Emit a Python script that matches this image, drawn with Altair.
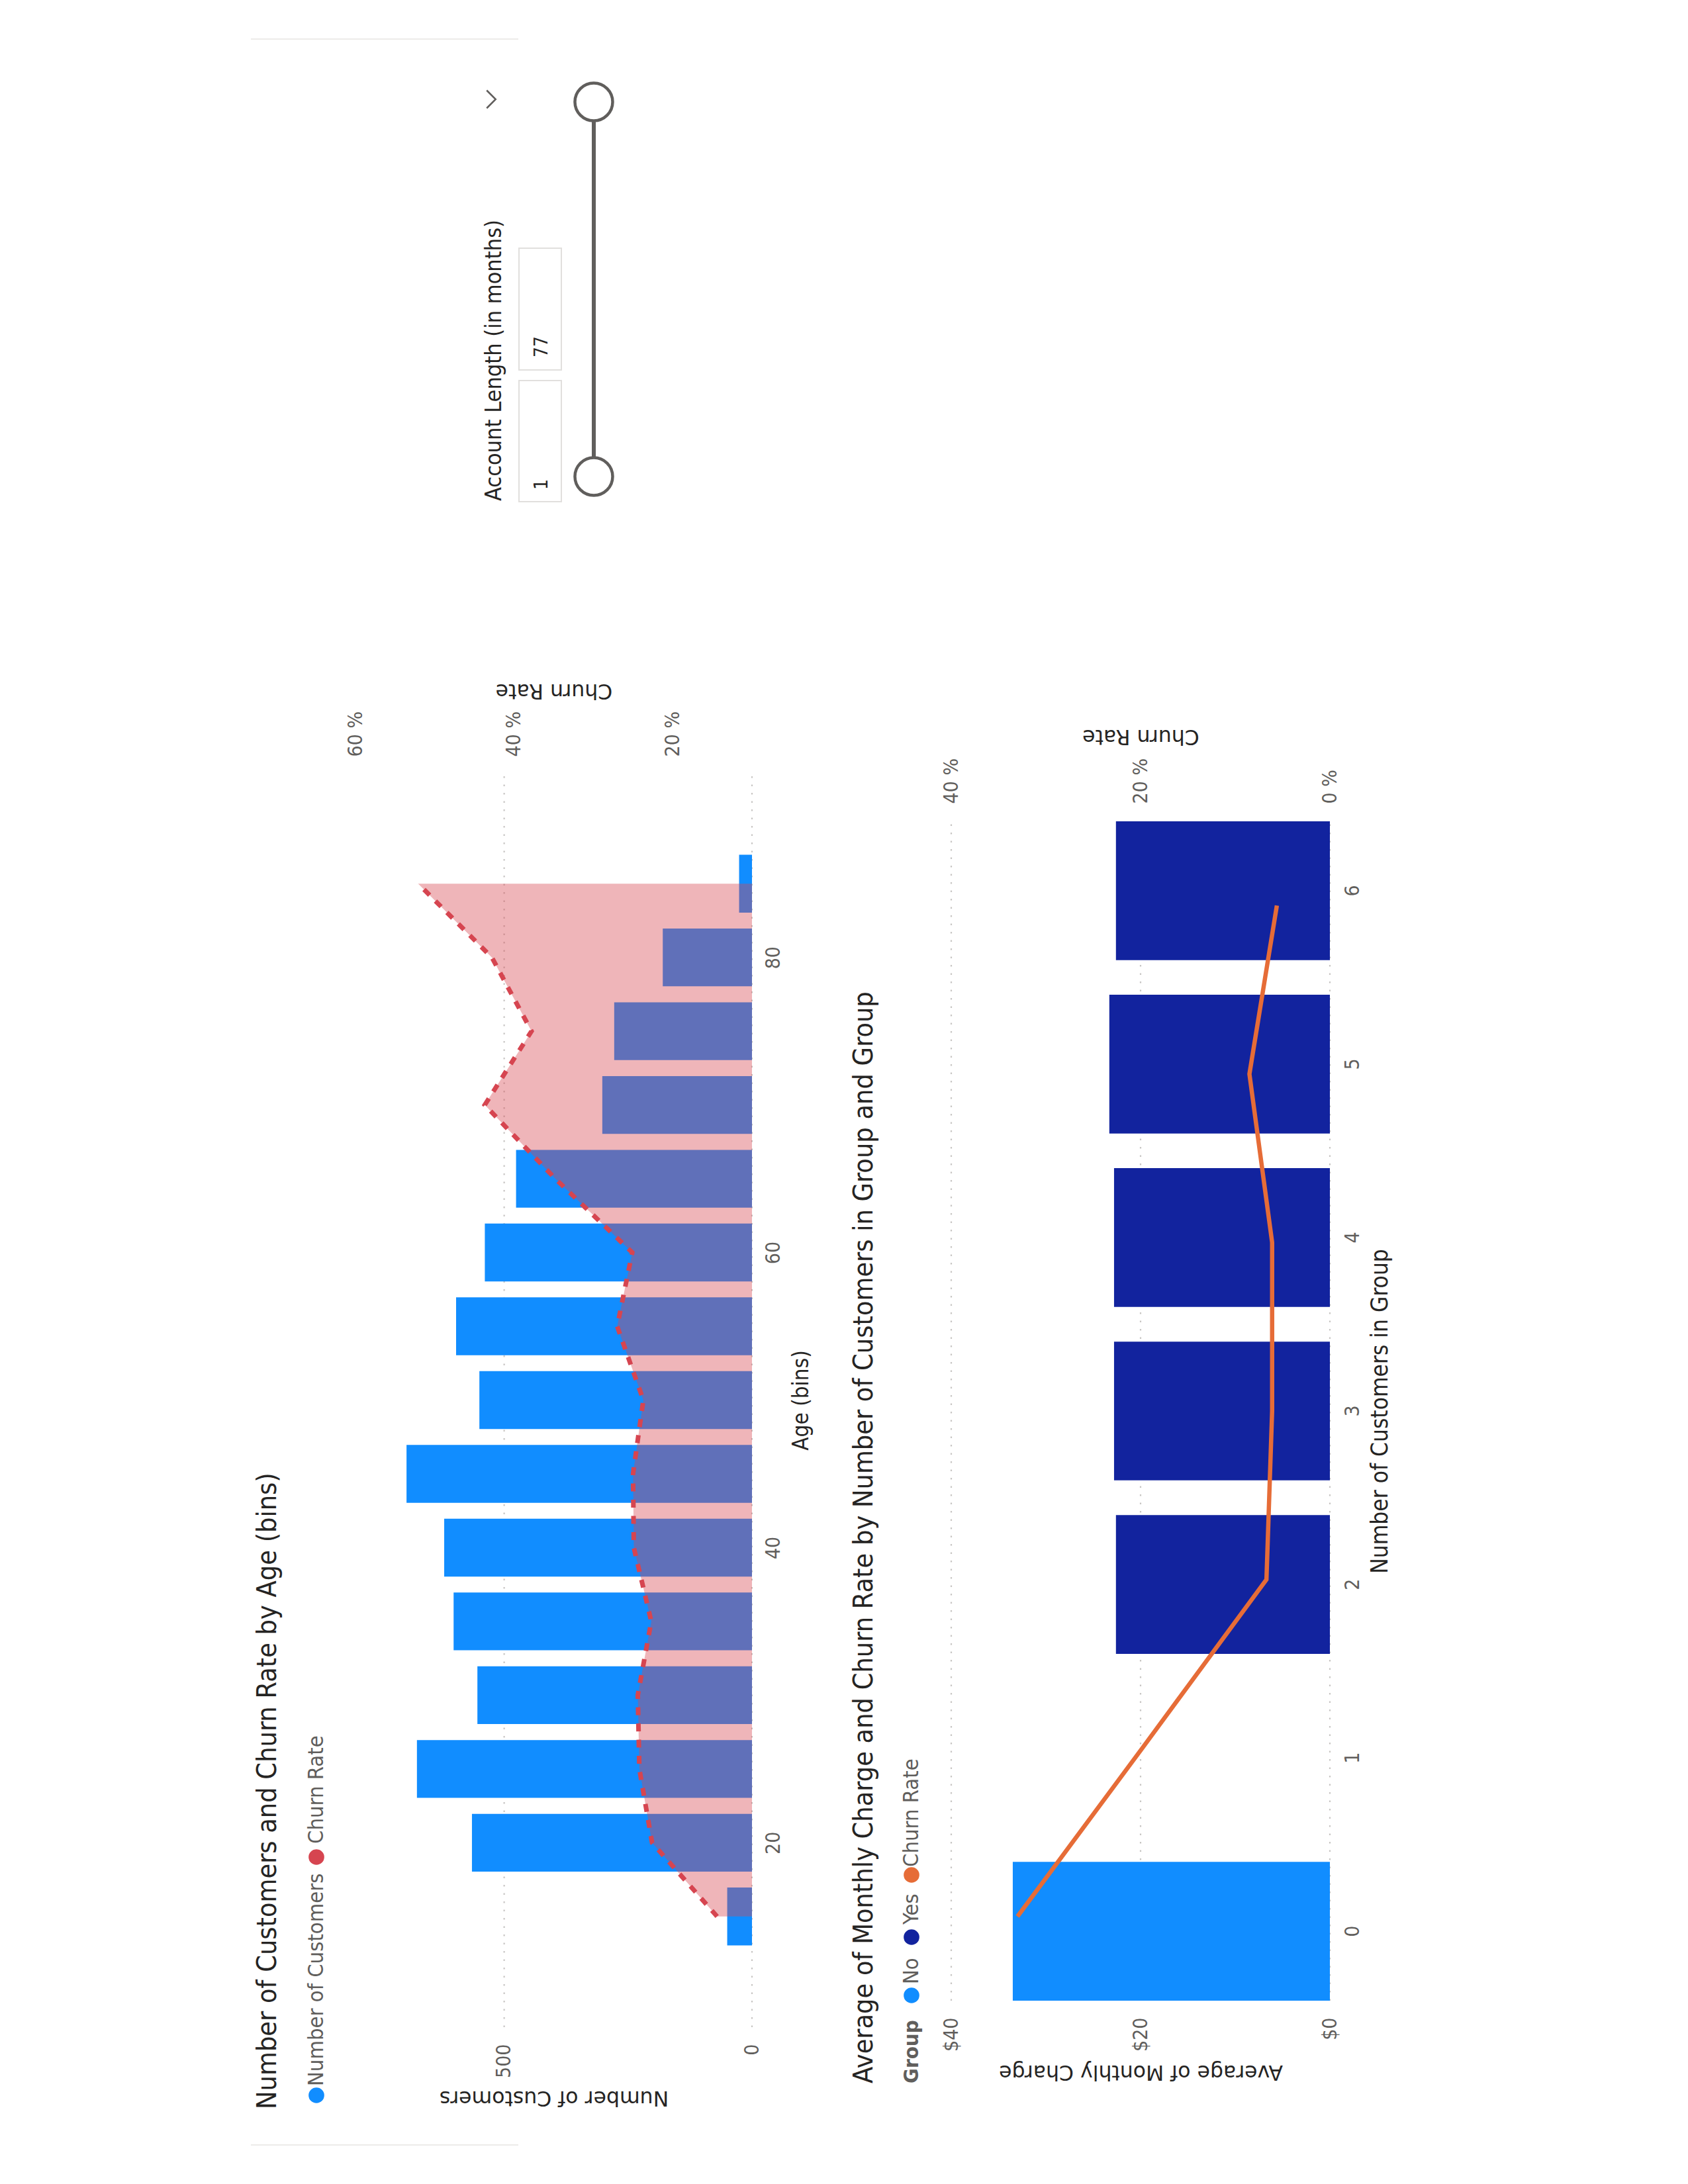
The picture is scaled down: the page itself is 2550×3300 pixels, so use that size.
import altair as alt
import pandas as pd

# ---------------- data ----------------
age_bins = [15, 20, 25, 30, 35, 40, 45, 50, 55, 60, 65, 70, 75, 80, 85]
customers = [50, 565, 676, 554, 602, 621, 697, 550, 597, 539, 476, 302, 278, 180, 26]
churn_by_age = [14.4, 22.6, 24.2, 24.4, 22.7, 24.9, 25.0, 23.7, 27.0, 25.1, 34.8, 43.7, 37.8, 42.8, 52.1]

group_sizes = [0, 1, 2, 3, 4, 5, 6]
bar_sizes = [0, 2, 3, 4, 5, 6]
bar_groups = ["No", "Yes", "Yes", "Yes", "Yes", "Yes"]
monthly_charge = [33.5, 22.6, 22.8, 22.8, 23.3, 22.6]
churn_by_size = [33.0, 19.8, 6.7, 6.1, 6.1, 8.5, 5.6]

customer_ticks = [0, 500]
churn_ticks_1 = [20, 40, 60]
age_ticks = [20, 40, 60, 80]
charge_ticks = [0, 20, 40]
churn_ticks_2 = [0, 20, 40]

slider_low, slider_high = "1", "77"

# ---------------- layout / style ----------------
W, H = 2550, 3300
NARROW = "'Liberation Sans Narrow', 'DejaVu Sans Condensed', 'Roboto Condensed', Roboto, sans-serif"
WIDE = "'DejaVu Sans', Verdana, sans-serif"
GRAY = "#605E5C"
DARK = "#252423"
GRID = "#C8C6C4"
BLUE = "#118DFF"
NAVY = "#12239E"
RED = "#D64550"
ORANGE = "#E66C37"

C1_X = [1136, 537]    # pixel range of chart-1 value axes (0 -> right)
C1_Y = [3063, 1168]   # pixel range of age axis
C2_X = [2009, 1437]
C2_Y = [3023, 1241]
AGE_DOMAIN = [7.5, 92.5]


def axis(**kw):
    base = dict(ticks=False, domain=False, labelAngle=270, labelFont=NARROW, labelFontSize=30,
                labelColor=GRAY, labelFlush=False, labelOverlap=False, titleFontWeight="normal",
                titleBaseline="middle", titleAlign="center", grid=False)
    base.update(kw)
    return alt.Axis(**base)


df_age = pd.DataFrame({"age": age_bins, "customers": customers, "churn": churn_by_age})
df_age["base"] = 10
df_bars2 = pd.DataFrame({"n": bar_sizes, "group": bar_groups, "charge": monthly_charge})
df_line2 = pd.DataFrame({"n": group_sizes, "churn": churn_by_size})
df_grid1 = pd.DataFrame({"v": customer_ticks, "lo": AGE_DOMAIN[0], "hi": AGE_DOMAIN[1]})
df_grid2 = pd.DataFrame({"v": charge_ticks, "lo": 0, "hi": 1})

age_scale = alt.Scale(domain=AGE_DOMAIN, range=C1_Y, nice=False, zero=False)
cust_scale = alt.Scale(domain=[0, 800], range=C1_X, nice=False)
churn1_scale = alt.Scale(domain=[10, 60], range=C1_X, nice=False, zero=False)
cat_scale = alt.Scale(domain=group_sizes, range=C2_Y, paddingInner=0.2, paddingOuter=0)
charge_scale = alt.Scale(domain=[0, 40], range=C2_X, nice=False)
churn2_scale = alt.Scale(domain=[0, 40], range=C2_X, nice=False)
frame2_scale = alt.Scale(domain=[0, 1], range=C2_Y, nice=False, zero=False)

c1_mid_x = (C1_X[0] + C1_X[1]) / 2
c1_mid_y = (C1_Y[0] + C1_Y[1]) / 2
c2_mid_x = (C2_X[0] + C2_X[1]) / 2
c2_mid_y = (C2_Y[0] + C2_Y[1]) / 2

cust_axis = axis(orient="bottom", offset=C1_Y[0] - H, values=customer_ticks, labelAlign="right",
                 labelBaseline="middle", labelPadding=25, title="Number of Customers", titleAngle=180,
                 titleX=c1_mid_x, titleY=105, titleFont=WIDE, titleFontSize=31.5, titleColor=DARK)
age_axis = axis(orient="right", offset=C1_X[0] - W, values=age_ticks, labelAlign="center",
                labelBaseline="top", labelPadding=17, title="Age (bins)", titleAngle=270,
                titleX=74, titleY=c1_mid_y, titleFont=NARROW, titleFontSize=33, titleColor=DARK)
churn1_axis = axis(orient="top", offset=-C1_Y[1], values=churn_ticks_1, labelExpr="datum.value + ' %'",
                   labelAlign="left", labelBaseline="middle", labelPadding=25, title="Churn Rate",
                   titleAngle=180, titleX=c1_mid_x, titleY=-126, titleFont=WIDE, titleFontSize=31.5,
                   titleColor=DARK)

charge_axis = axis(orient="bottom", offset=C2_Y[0] - H, values=charge_ticks, labelExpr="'$' + datum.value",
                   labelAlign="right", labelBaseline="middle", labelPadding=25,
                   title="Average of Monthly Charge", titleAngle=180, titleX=c2_mid_x, titleY=106,
                   titleFont=WIDE, titleFontSize=31.5, titleColor=DARK)
cat_axis = axis(orient="right", offset=C2_X[0] - W, labelAlign="center", labelBaseline="top",
                labelPadding=19, title="Number of Customers in Group", titleAngle=270, titleX=75,
                titleY=c2_mid_y, titleFont=NARROW, titleFontSize=35, titleColor=DARK)
churn2_axis = axis(orient="top", offset=-C2_Y[1], values=churn_ticks_2, labelExpr="datum.value + ' %'",
                   labelAlign="left", labelBaseline="middle", labelPadding=27, title="Churn Rate",
                   titleAngle=180, titleX=c2_mid_x, titleY=-130, titleFont=WIDE, titleFontSize=31.5,
                   titleColor=DARK)

# ---------------- chart 1 ----------------
grid1 = alt.Chart(df_grid1).mark_rule(color=GRID, strokeWidth=2.2, strokeDash=[2.5, 10]).encode(
    x=alt.X("v:Q", scale=cust_scale, axis=None),
    y=alt.Y("lo:Q", scale=age_scale, axis=None),
    y2="hi:Q",
)
bars1 = alt.Chart(df_age).transform_calculate(
    lo="datum.age - 1.96", hi="datum.age + 1.96"
).mark_rect(color=BLUE).encode(
    x=alt.X("customers:Q", scale=cust_scale, axis=cust_axis),
    x2=alt.datum(0),
    y=alt.Y("lo:Q", scale=age_scale, axis=age_axis),
    y2="hi:Q",
)
area1 = alt.Chart(df_age).mark_area(
    color=RED, fill=RED, fillOpacity=0.4, orient="horizontal", interpolate="linear"
).encode(
    y=alt.Y("age:Q", scale=age_scale, axis=None),
    x=alt.X("churn:Q", scale=churn1_scale, axis=churn1_axis),
    x2="base:Q",
)
line1 = alt.Chart(df_age).mark_line(color=RED, strokeDash=[12, 12.5], strokeWidth=7).encode(
    x=alt.X("churn:Q", scale=churn1_scale, axis=None),
    y=alt.Y("age:Q", scale=age_scale, axis=None),
    order=alt.Order("age:Q"),
)

# ---------------- chart 2 ----------------
grid2 = alt.Chart(df_grid2).mark_rule(color=GRID, strokeWidth=2.2, strokeDash=[2.5, 10]).encode(
    x=alt.X("v:Q", scale=charge_scale, axis=None),
    y=alt.Y("lo:Q", scale=frame2_scale, axis=None),
    y2="hi:Q",
)
bars2 = alt.Chart(df_bars2).mark_bar().encode(
    y=alt.Y("n:O", scale=cat_scale, axis=cat_axis),
    x=alt.X("charge:Q", scale=charge_scale, axis=charge_axis, stack=None),
    color=alt.Color("group:N", scale=alt.Scale(domain=["No", "Yes"], range=[BLUE, NAVY]), legend=None),
)
line2 = alt.Chart(df_line2).mark_line(color=ORANGE, strokeWidth=6.5).encode(
    y=alt.Y("n:O", scale=cat_scale, axis=None),
    x=alt.X("churn:Q", scale=churn2_scale, axis=churn2_axis),
    order=alt.Order("n:Q"),
)


# ---------------- texts, legends, slicer ----------------
def text(t, x, y, size, font=NARROW, color=GRAY, angle=270, align="left", weight="normal"):
    return alt.Chart(pd.DataFrame({"t": [t]})).mark_text(
        angle=angle, align=align, baseline="middle", font=font, fontSize=size,
        color=color, fontWeight=weight
    ).encode(x=alt.value(x), y=alt.value(y), text="t:N")


def dot(x, y, color, size=560):
    return alt.Chart(pd.DataFrame({"a": [0]})).mark_point(
        shape="circle", filled=True, size=size, color=color, opacity=1
    ).encode(x=alt.value(x), y=alt.value(y))


def hline(x1, x2, y, color="#EDEBE9"):
    return alt.Chart(pd.DataFrame({"a": [0]})).mark_rule(color=color, strokeWidth=2).encode(
        x=alt.value(x1), x2=alt.value(x2), y=alt.value(y))


texts = [
    text("Number of Customers and Churn Rate by Age (bins)", 405, 3187, 41, color=DARK),
    dot(478, 3166, BLUE), text("Number of Customers", 478, 3152, 32.5),
    dot(478, 2806, RED), text("Churn Rate", 478, 2786, 32.5),
    text("Average of Monthly Charge and Churn Rate by Number of Customers in Group and Group", 1306, 3148, 41, color=DARK),
    text("Group", 1378, 3148, 31, weight="bold"),
    dot(1377, 3015, BLUE), text("No", 1377, 2998, 32.5),
    dot(1377, 2927, NAVY), text("Yes", 1377, 2908, 32.5),
    dot(1377, 2833, ORANGE), text("Churn Rate", 1377, 2821, 32.5),
    hline(379, 783, 59), hline(379, 783, 3241),
]

boxes = alt.Chart(pd.DataFrame({"a": [0]})).mark_rect(fill="white", stroke="#E1DFDD", strokeWidth=2).encode(
    x=alt.value(784), x2=alt.value(848), y=alt.value(575), y2=alt.value(758))
boxes2 = alt.Chart(pd.DataFrame({"a": [0]})).mark_rect(fill="white", stroke="#E1DFDD", strokeWidth=2).encode(
    x=alt.value(784), x2=alt.value(848), y=alt.value(375), y2=alt.value(559))
track = alt.Chart(pd.DataFrame({"a": [0]})).mark_rule(color=GRAY, strokeWidth=6).encode(
    x=alt.value(897), y=alt.value(180), y2=alt.value(694))
handle_hi = alt.Chart(pd.DataFrame({"a": [0]})).mark_point(
    shape="circle", filled=True, fill="white", stroke=GRAY, strokeWidth=4.5, size=3250, opacity=1
).encode(x=alt.value(897), y=alt.value(154))
handle_lo = alt.Chart(pd.DataFrame({"a": [0]})).mark_point(
    shape="circle", filled=True, fill="white", stroke=GRAY, strokeWidth=4.5, size=3250, opacity=1
).encode(x=alt.value(897), y=alt.value(720))
chevron = alt.Chart(pd.DataFrame({"a": [0]})).mark_point(
    shape="M -0.5 -1 L 0.5 0 L -0.5 1", filled=False, stroke=GRAY, strokeWidth=2.5, size=729, opacity=1
).encode(x=alt.value(742), y=alt.value(150))

slicer = [
    text("Account Length (in months)", 747, 757, 34, color=DARK),
    boxes, boxes2,
    text(slider_low, 819, 740, 28, color=DARK),
    text(slider_high, 819, 540, 28, color=DARK),
    track, handle_hi, handle_lo, chevron,
]

chart = alt.layer(
    grid1, bars1, area1, line1, grid2, bars2, line2, *texts, *slicer
).resolve_scale(
    x="independent", y="independent", color="independent"
).properties(
    width=W, height=H, padding=0, background="white",
    autosize=alt.AutoSizeParams(type="none"),
).configure_view(stroke=None)

chart.save("out.html", embed_options={"renderer": "svg", "actions": False})
